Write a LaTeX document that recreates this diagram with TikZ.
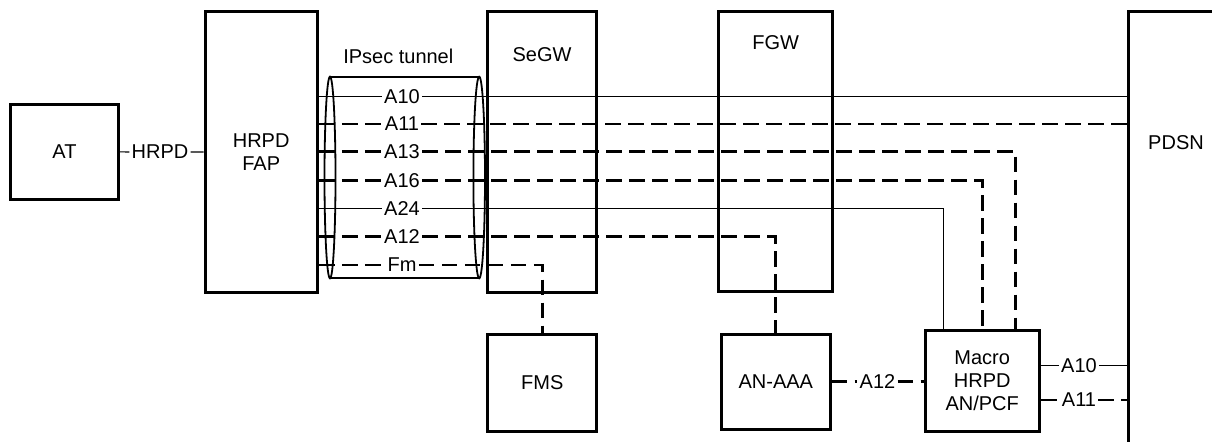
\documentclass[tikz,border=0pt]{standalone}
\usepackage{fontspec}
\setmainfont{Liberation Sans}

\newcommand*{\tubel}{330}
\newcommand*{\tuber}{479.2}
\newcommand*{\tubetop}{76.7}
\newcommand*{\tubebot}{278.3}
\newcommand*{\tubemid}{177.5}

\begin{document}
\begin{tikzpicture}
[
	x=0.5pt, y=-0.5pt,
	font=\fontsize{10}{11.5}\selectfont,
	box/.style={draw,line width=1.5pt,inner sep=0pt,align=center},
	solidsig/.style={line width=0.6pt},
	dashsig/.style={line width=1.4pt,dash pattern=on 7.8pt off 3.7pt},
	tube/.style={line width=0.9pt},
	sigl/.style={inner sep=1pt}
]

	\clip (0,0) rectangle (1212,441);

	% boxes
	\node[box,minimum width=53.8pt,minimum height=47.7pt] at (64.5,151.7) (term) {AT};
	\node[box,minimum width=56.2pt,minimum height=140.3pt] at (261.2,152) (fap) {HRPD\\FAP};
	\node[box,minimum width=54.7pt,minimum height=140.5pt] at (542,151.5) (segw) {};
	\node[box,minimum width=57pt,minimum height=140pt] at (775.7,151) (fgw) {};
	\node[box,minimum width=130pt,minimum height=240pt] at (1258.3,251) (pdsn) {};
	\node[box,minimum width=54.4pt,minimum height=48.5pt] at (542.3,382.5) (fms) {FMS};
	\node[box,minimum width=54.2pt,minimum height=47.5pt] at (775.8,381.5) (anaaa) {AN-AAA};
	\node[box,minimum width=57.2pt,minimum height=50.5pt] at (982.2,381.2) (macro) {Macro\\HRPD\\AN/PCF};

	% box titles
	\node at (542,55) (segwtitle) {SeGW};
	\node at (775.7,42.5) (fgwtitle) {FGW};
	\node at (1176,143) (pdsntitle) {PDSN};
	\node at (398.3,56.7) (tunneltitle) {IPsec tunnel};

	% tunnel
	\draw[tube] (\tubel,\tubemid) ellipse [x radius=2.75pt, y radius=50.4pt];
	\draw[tube] (\tuber,\tubemid) ellipse [x radius=2.9pt, y radius=50.4pt];
	\draw[tube] (\tubel,\tubetop) -- (\tuber,\tubetop);
	\draw[tube] (\tubel,\tubebot) -- (\tuber,\tubebot);

	% air interface
	\node[sigl] at (160,152) (hrpd) {HRPD};
	\draw[solidsig] (term) -- (hrpd) -- (fap);

	% interfaces through the tunnel
	\node[sigl] at (402,96.7) (a10) {A10};
	\node[sigl] at (402,124) (a11) {A11};
	\node[sigl] at (402,151.7) (a13) {A13};
	\node[sigl] at (402,180.3) (a16) {A16};
	\node[sigl] at (402,208.7) (a24) {A24};
	\node[sigl] at (402,236.7) (a12) {A12};
	\node[sigl] at (402,265) (fm) {Fm};

	\draw[solidsig] (fap.east |- a10) -- (a10) -- (a10 -| pdsn.west);
	\draw[dashsig] (fap.east |- a11) -- (a11) -- (a11 -| pdsn.west);
	\draw[dashsig] (fap.east |- a13) -- (a13) -| ([xshift=16.5pt]macro.north);
	\draw[dashsig] (fap.east |- a16) -- (a16) -| (macro.north);
	\draw[solidsig] (fap.east |- a24) -- (a24) -| ([xshift=-19.5pt]macro.north);
	\draw[dashsig] (fap.east |- a12) -- (a12) -| (anaaa.north);
	\draw[dashsig] (fap.east |- fm) -- (fm) -| (fms.north);

	% macro network
	\node[sigl] at (877.5,381.5) (a12m) {A12};
	\draw[dashsig] (anaaa.east |- a12m) -- (a12m) -- (macro.west |- a12m);

	\node[sigl] at (1079,365.7) (a10m) {A10};
	\node[sigl] at (1079,400) (a11m) {A11};
	\draw[solidsig] (macro.east |- a10m) -- (a10m) -- (a10m -| pdsn.west);
	\draw[dashsig] (macro.east |- a11m) -- (a11m) -- (a11m -| pdsn.west);

\end{tikzpicture}
\end{document}
